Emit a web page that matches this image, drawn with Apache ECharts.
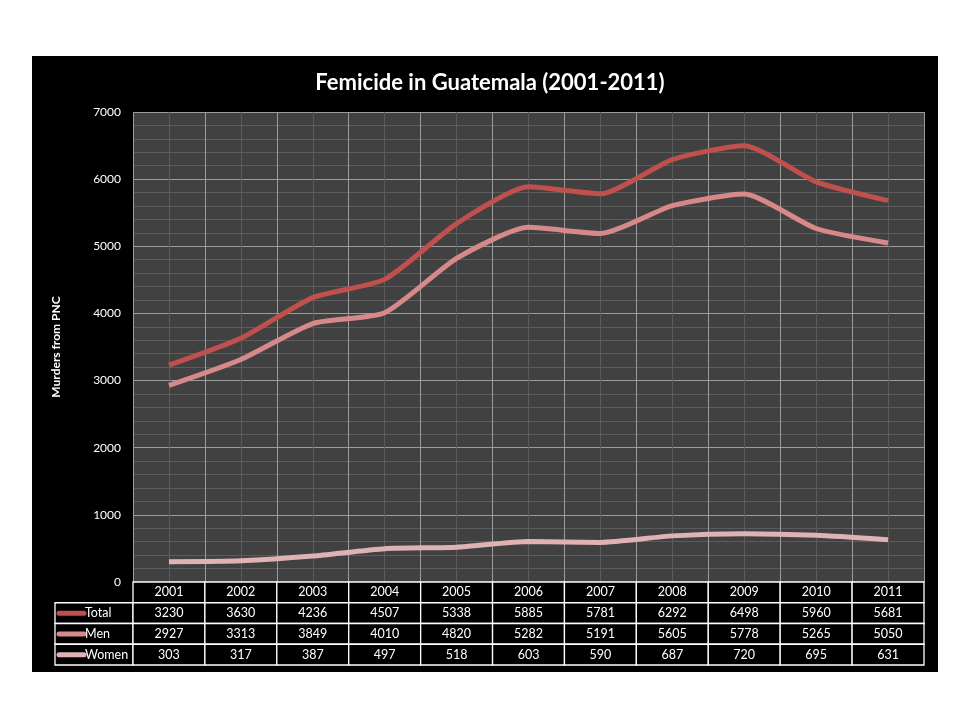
<!DOCTYPE html>
<html>
<head>
<meta charset="utf-8">
<script src="https://cdn.jsdelivr.net/npm/echarts@6/dist/echarts.min.js"></script>
<style>
  body { margin: 0; background: #fff; }
  #panel { position: absolute; left: 32px; top: 56px; width: 906px; height: 616px; background: #000; }
  #chart { position: absolute; left: 0; top: 0; width: 960px; height: 720px; }
</style>
</head>
<body>
<div id="panel"></div>
<div id="chart"></div>
<script>
// data
let years = ['2001', '2002', '2003', '2004', '2005', '2006', '2007', '2008', '2009', '2010', '2011'];
let total = [3230, 3630, 4236, 4507, 5338, 5885, 5781, 6292, 6498, 5960, 5681];
let men = [2927, 3313, 3849, 4010, 4820, 5282, 5191, 5605, 5778, 5265, 5050];
let women = [303, 317, 387, 497, 518, 603, 590, 687, 720, 695, 631];
let seriesNames = ['Total', 'Men', 'Women'];
let colors = ['#c0504d', '#d7898a', '#dfb3b3'];

let font = 'Lato, "Open Sans", sans-serif';
let chart = echarts.init(document.getElementById('chart'));

// table cells: row 0 = years, rows 1..3 = series values, col -1 = legend column
let rows = [total, men, women];
let cells = [];
years.forEach(function (y, i) { cells.push({col: i, row: 0, text: y}); });
rows.forEach(function (vals, r) {
    cells.push({col: -1, row: r + 1, text: seriesNames[r], color: colors[r]});
    vals.forEach(function (v, i) { cells.push({col: i, row: r + 1, text: String(v)}); });
});

function renderCell(params, api) {
    let c = cells[params.dataIndex];
    let size = api.size([1, 1]);
    let pt = api.coord([Math.max(c.col, 0), c.row]);
    let x = pt[0] - size[0] / 2, y = pt[1] - size[1] / 2, w = size[0], h = size[1];
    let cellStyle = {fill: '#000', stroke: '#fff', lineWidth: 1.3};
    if (c.col < 0) {
        w = 78;
        x = x - w;
        return {
            type: 'group',
            children: [
                {type: 'rect', shape: {x: x, y: y, width: w, height: h}, style: cellStyle},
                {type: 'line', shape: {x1: x + 4, y1: y + h / 2, x2: x + 29, y2: y + h / 2},
                    style: {stroke: c.color, lineWidth: 5, lineCap: 'round'}},
                {type: 'text', x: x + 30, y: y + h / 2,
                    style: {text: c.text, fill: '#fff', font: '12.5px ' + font, verticalAlign: 'middle'}}
            ]
        };
    }
    return {
        type: 'group',
        children: [
            {type: 'rect', shape: {x: x, y: y, width: w, height: h}, style: cellStyle},
            {type: 'text', x: x + w / 2, y: y + h / 2,
                style: {text: c.text, fill: '#fff', font: '12.5px ' + font, align: 'center', verticalAlign: 'middle'}}
        ]
    };
}

let option = {
    backgroundColor: 'transparent',
    animation: false,
    title: {
        text: 'Femicide in Guatemala (2001-2011)',
        left: 485,
        textAlign: 'center',
        top: 67,
        textStyle: {color: '#fff', fontSize: 22, fontWeight: 'bold', fontFamily: font}
    },
    grid: [
        {left: 133, right: 36, top: 112, bottom: 138, show: true, backgroundColor: '#414141', borderWidth: 0},
        {left: 133, right: 36, top: 582, height: 83}
    ],
    xAxis: [
        {
            type: 'category', gridIndex: 0, data: years, boundaryGap: true,
            axisLabel: {show: false}, axisTick: {show: false},
            axisLine: {show: false},
            splitLine: {show: true, interval: 0, lineStyle: {color: '#9c9c9c', width: 1}}
        },
        {
            // only here for the faint lines through the middle of each year
            type: 'value', gridIndex: 0, min: 0, max: 11, interval: 1,
            axisLabel: {show: false}, axisTick: {show: false}, axisLine: {show: false},
            splitLine: {show: false},
            minorSplitLine: {show: true, lineStyle: {color: '#5c5c5c', width: 1}},
            minorTick: {show: false, splitNumber: 2}
        },
        {type: 'category', gridIndex: 1, data: years, show: false}
    ],
    yAxis: [
        {
            type: 'value', gridIndex: 0, min: 0, max: 7000, interval: 1000,
            name: 'Murders from PNC', nameLocation: 'middle', nameRotate: 90, nameGap: 71,
            nameTextStyle: {color: '#fff', fontSize: 12, fontWeight: 'bold', fontFamily: font},
            axisLabel: {color: '#fff', fontSize: 12, fontFamily: font, margin: 12,
                formatter: function (v) { return String(v); }},
            axisLine: {show: false}, axisTick: {show: false},
            splitLine: {lineStyle: {color: '#9c9c9c', width: 1}},
            minorTick: {show: false, splitNumber: 5},
            minorSplitLine: {show: true, lineStyle: {color: '#5c5c5c', width: 1}}
        },
        {type: 'category', gridIndex: 1, data: ['year'].concat(seriesNames), inverse: true, show: false}
    ],
    series: [
        {name: 'Total', type: 'line', data: total, smooth: 0.2, symbol: 'none', lineStyle: {width: 5, color: colors[0]}, z: 5},
        {name: 'Men', type: 'line', data: men, smooth: 0.2, symbol: 'none', lineStyle: {width: 5, color: colors[1]}, z: 4},
        {name: 'Women', type: 'line', data: women, smooth: 0.2, symbol: 'none', lineStyle: {width: 5, color: colors[2]}, z: 3},
        {
            type: 'custom', xAxisIndex: 2, yAxisIndex: 1,
            data: cells.map(function (c) { return [Math.max(c.col, 0), c.row]; }),
            renderItem: renderCell, silent: true, z: 10
        }
    ]
};
chart.setOption(option);
</script>
</body>
</html>
